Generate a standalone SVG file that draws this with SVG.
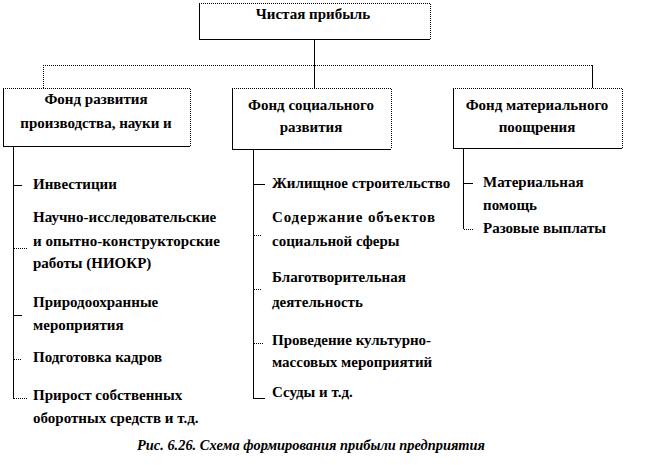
<svg xmlns="http://www.w3.org/2000/svg" width="645" height="465" viewBox="0 0 645 465">
<style>
  .bg{fill:#fff}
  .solid{fill:none;stroke:#000;stroke-width:1}
  .dot{fill:none;stroke:#000;stroke-width:1;stroke-dasharray:1 1}
  .t{font-family:'Liberation Serif','Times New Roman',serif;font-weight:bold;font-size:15px;fill:#000}
  .c{text-anchor:middle}
  .cap{font-family:'Liberation Serif','Times New Roman',serif;font-weight:bold;font-style:italic;font-size:14.4px;fill:#000;text-anchor:middle}
</style>
<rect width="645" height="465" fill="#fff"/>
<g id="connectors" shape-rendering="crispEdges">
  <path class="solid" d="M314.5 39V88"/>
  <path class="dot" d="M43 65.5H592"/>
  <path class="dot" d="M43.5 65V88"/>
  <path class="solid" d="M592.5 65V88"/>
  <path class="solid" d="M13.5 146V399"/>
  <path class="solid" d="M13 185.5H22"/>
  <path class="dot" d="M14 248.5H28"/>
  <path class="solid" d="M13 315.5H22"/>
  <path class="dot" d="M14 359.5H21"/>
  <path class="dot" d="M14 398.5H28"/>
  <path class="solid" d="M253.5 149V398"/>
  <path class="solid" d="M253 184.5H265"/>
  <path class="dot" d="M254 235.5H262"/>
  <path class="dot" d="M254 289.5H261"/>
  <path class="dot" d="M254 343.5H263"/>
  <path class="solid" d="M253 398.5H265"/>
  <path class="solid" d="M463.5 148V229"/>
  <path class="solid" d="M463 183.5H473"/>
  <path class="dot" d="M464 229.5H474"/>
</g>
<g id="node-profit" shape-rendering="crispEdges">
  <rect class="bg" x="199" y="3" width="231" height="36"/>
  <path class="solid" d="M199.5 3V39.5H430"/>
  <path class="dot" d="M199 3.5H430.5V39"/>
  <text class="t c" x="313" y="19">Чистая прибыль</text>
</g>
<g id="node-fund-prod" shape-rendering="crispEdges">
  <rect class="bg" x="3" y="88" width="187" height="58"/>
  <path class="solid" d="M3.5 88V146.5H190"/>
  <path class="dot" d="M3 88.5H190.5V146"/>
  <text class="t c" x="96" y="104">Фонд развития</text>
  <text class="t c" x="96" y="128">производства, науки и</text>
</g>
<g id="node-fund-social" shape-rendering="crispEdges">
  <rect class="bg" x="232" y="88" width="159" height="61"/>
  <path class="solid" d="M232.5 88V149.5H391"/>
  <path class="dot" d="M232 88.5H391.5V149"/>
  <text class="t c" x="311" y="110">Фонд социального</text>
  <text class="t c" x="311" y="132">развития</text>
</g>
<g id="node-fund-material" shape-rendering="crispEdges">
  <rect class="bg" x="453" y="88" width="169" height="60"/>
  <path class="solid" d="M453.5 88V148.5H622"/>
  <path class="dot" d="M453 88.5H622.5V148"/>
  <text class="t c" x="537" y="110">Фонд материального</text>
  <text class="t c" x="537" y="132">поощрения</text>
</g>
<g id="list-prod">
  <text class="t" x="33" y="189">Инвестиции</text>
  <text class="t" x="33" y="222">Научно-исследовательские</text>
  <text class="t" x="33" y="246" textLength="187" lengthAdjust="spacing">и  опытно-конструкторские</text>
  <text class="t" x="33" y="268">работы (НИОКР)</text>
  <text class="t" x="33" y="307">Природоохранные</text>
  <text class="t" x="33" y="330">мероприятия</text>
  <text class="t" x="33" y="362">Подготовка кадров</text>
  <text class="t" x="33" y="400">Прирост собственных</text>
  <text class="t" x="33" y="423">оборотных средств и т.д.</text>
</g>
<g id="list-social">
  <text class="t" x="272" y="188">Жилищное строительство</text>
  <text class="t" x="272" y="222" textLength="163" lengthAdjust="spacing">Содержание    объектов</text>
  <text class="t" x="272" y="246">социальной сферы</text>
  <text class="t" x="272" y="282">Благотворительная</text>
  <text class="t" x="272" y="307">деятельность</text>
  <text class="t" x="272" y="345">Проведение культурно-</text>
  <text class="t" x="272" y="367">массовых мероприятий</text>
  <text class="t" x="272" y="397">Ссуды и т.д.</text>
</g>
<g id="list-material">
  <text class="t" x="483" y="187">Материальная</text>
  <text class="t" x="483" y="210">помощь</text>
  <text class="t" x="483" y="233">Разовые выплаты</text>
</g>
<text class="cap" x="311" y="450">Рис. 6.26. Схема формирования прибыли предприятия</text>
</svg>
